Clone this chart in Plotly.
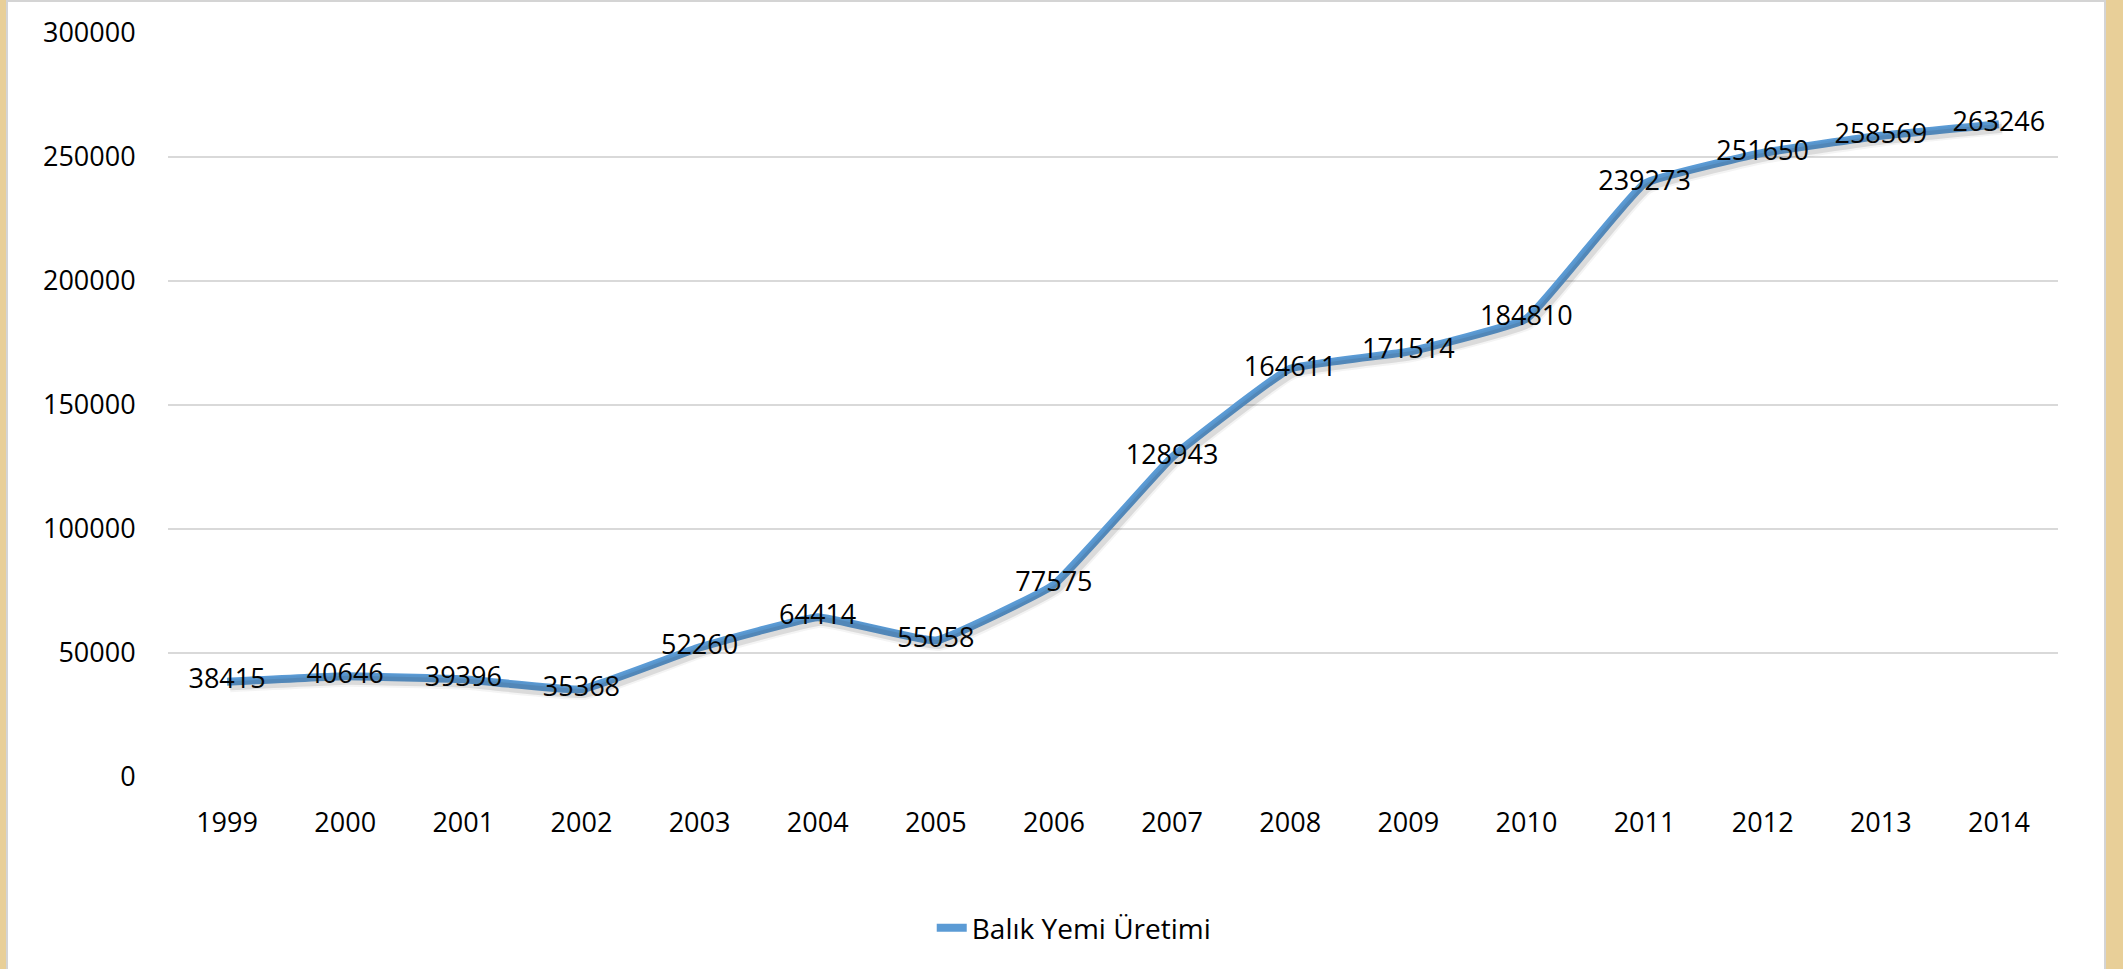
import plotly.graph_objects as go

# Annual fish feed production (tonnes)
years = ["1999", "2000", "2001", "2002", "2003", "2004", "2005", "2006",
         "2007", "2008", "2009", "2010", "2011", "2012", "2013", "2014"]
production = [38415, 40646, 39396, 35368, 52260, 64414, 55058, 77575,
              128943, 164611, 171514, 184810, 239273, 251650, 258569, 263246]
series_name = "Balık Yemi Üretimi"
y_ticks = [0, 50000, 100000, 150000, 200000, 250000, 300000]

W, H = 2123, 969
PLOT_L, PLOT_R, PLOT_T, PLOT_B = 168, 2058, 33, 777
FONT = "Open Sans"
LINE_BLUE = "#5B9BD5"
Y_MAX = 300000
N = len(years)
SMOOTH = 0.3

# shadow offset in pixels, converted to axis units
SH_DX, SH_DY = 3, 4
dx_units = SH_DX * N / (PLOT_R - PLOT_L)
dy_units = SH_DY * Y_MAX / (PLOT_B - PLOT_T)

fig = go.Figure()

# drop shadow drawn on offset overlay axes
for w, a in [(13, 0.05), (9, 0.12)]:
    fig.add_trace(go.Scatter(
        x=years, y=production, mode="lines", xaxis="x2", yaxis="y2",
        line=dict(color=f"rgba(40,40,40,{a})", width=w,
                  shape="spline", smoothing=SMOOTH),
        hoverinfo="skip", showlegend=False,
    ))

fig.add_trace(go.Scatter(
    x=years, y=production, name=series_name,
    mode="lines+text",
    line=dict(color=LINE_BLUE, width=8, shape="spline", smoothing=SMOOTH),
    text=[str(v) for v in production],
    textposition="middle center",
    textfont=dict(family=FONT, size=27, color="#000000"),
    cliponaxis=False,
))

# white chart card over a parchment-coloured page
pw, ph = PLOT_R - PLOT_L, PLOT_B - PLOT_T
cx0, cx1 = (7 - PLOT_L) / pw, (2105 - PLOT_L) / pw
cy0, cy1 = -(H - PLOT_B) / ph, (PLOT_B - 1) / ph
fig.add_shape(type="rect", xref="paper", yref="paper",
              x0=cx0, x1=cx1, y0=cy0 - 0.01, y1=cy1,
              fillcolor="white", line=dict(color="#D4D4D4", width=2),
              layer="below")

fig.update_layout(
    width=W, height=H,
    margin=dict(l=PLOT_L, r=W - PLOT_R, t=PLOT_T, b=H - PLOT_B),
    paper_bgcolor="#E8CF98",
    plot_bgcolor="rgba(0,0,0,0)",
    font=dict(family=FONT, size=27, color="#000000"),
    showlegend=True,
    legend=dict(
        orientation="h", xref="container", yref="container",
        x=0.506, xanchor="center", y=1 - 928 / H, yanchor="middle",
        font=dict(family=FONT, size=28, color="#000000"),
        bgcolor="rgba(0,0,0,0)",
    ),
    xaxis=dict(
        type="category", range=[-0.5, N - 0.5],
        showgrid=False, zeroline=False, showline=False,
        ticks="outside", ticklen=22, tickcolor="rgba(0,0,0,0)",
        tickfont=dict(family=FONT, size=27, color="#000000"),
    ),
    yaxis=dict(
        range=[0, Y_MAX], tickvals=y_ticks,
        ticktext=[str(v) for v in y_ticks],
        showgrid=True, gridcolor="#D9D9D9", gridwidth=1.5,
        zeroline=False, showline=False,
        ticks="outside", ticklen=26, tickcolor="rgba(0,0,0,0)",
        tickfont=dict(family=FONT, size=27, color="#000000"),
    ),
    xaxis2=dict(
        type="category", overlaying="x", visible=False,
        range=[-0.5 - dx_units, N - 0.5 - dx_units],
    ),
    yaxis2=dict(
        overlaying="y", visible=False,
        range=[dy_units, Y_MAX + dy_units],
    ),
)

fig.write_html("out.html")
